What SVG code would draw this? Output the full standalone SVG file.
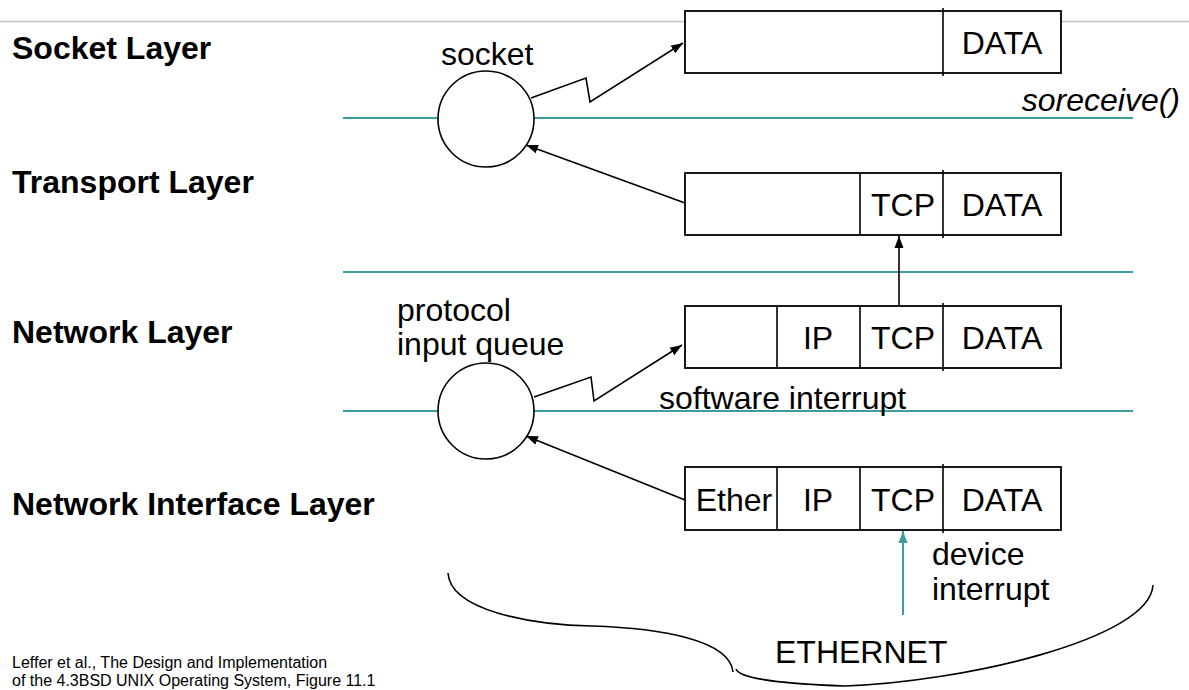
<svg xmlns="http://www.w3.org/2000/svg" width="1189" height="690" viewBox="0 0 1189 690">
<defs>
<style>
.lbl{font-family:"Liberation Sans",Arial,sans-serif;font-size:32px;fill:#000}
.bold{font-weight:bold}
.box{fill:#fff;stroke:#000;stroke-width:1.8}
.div{stroke:#000;stroke-width:1.6}
.teal{stroke:#3d9c9c;stroke-width:2;fill:none}
.conn{stroke:#000;stroke-width:1.6;fill:none}
.circ{fill:#fff;stroke:#000;stroke-width:1.6}
.cite{font-family:"Liberation Sans",Arial,sans-serif;font-size:16px;fill:#000}
</style>
<marker id="ah" markerUnits="userSpaceOnUse" markerWidth="13" markerHeight="10" refX="12" refY="5" orient="auto">
<path d="M0,0.5 L12,5 L0,9.5 z" fill="#000"/>
</marker>
<marker id="aht" markerUnits="userSpaceOnUse" markerWidth="13" markerHeight="10" refX="12" refY="5" orient="auto">
<path d="M0,0.5 L12,5 L0,9.5 z" fill="#3d9c9c"/>
</marker>
</defs>
<rect width="1189" height="690" fill="#fff"/>

<g id="layer-lines">
<line x1="0" y1="21.5" x2="1189" y2="21.5" stroke="#c4c4c4" stroke-width="1.5"/>
<line class="teal" x1="343" y1="118" x2="1133" y2="118"/>
<line class="teal" x1="343" y1="272" x2="1133" y2="272"/>
<line class="teal" x1="343" y1="411" x2="1133" y2="411"/>
</g>

<g id="layer-labels">
<text class="lbl bold" x="12" y="59">Socket Layer</text>
<text class="lbl bold" x="12" y="193">Transport Layer</text>
<text class="lbl bold" x="12" y="343">Network Layer</text>
<text class="lbl bold" x="12" y="515">Network Interface Layer</text>
</g>

<g id="socket">
<circle class="circ" cx="486" cy="119" r="48"/>
<text class="lbl" x="441" y="65">socket</text>
</g>

<g id="input-queue">
<circle class="circ" cx="486" cy="411" r="48"/>
<text class="lbl" x="397" y="321">protocol</text>
<text class="lbl" x="397" y="355">input queue</text>
</g>

<g id="mbuf-socket">
<rect class="box" x="685" y="11" width="376" height="62"/>
<line class="div" x1="943" y1="8" x2="943" y2="76"/>
<text class="lbl" x="1002" y="54" text-anchor="middle">DATA</text>
</g>

<g id="mbuf-transport">
<rect class="box" x="685" y="173" width="376" height="62"/>
<line class="div" x1="860" y1="173" x2="860" y2="235"/>
<line class="div" x1="943" y1="170" x2="943" y2="238"/>
<text class="lbl" x="903" y="216" text-anchor="middle">TCP</text>
<text class="lbl" x="1002" y="216" text-anchor="middle">DATA</text>
</g>

<g id="mbuf-network">
<rect class="box" x="685" y="306" width="376" height="62"/>
<line class="div" x1="777" y1="306" x2="777" y2="368"/>
<line class="div" x1="860" y1="306" x2="860" y2="368"/>
<line class="div" x1="943" y1="303" x2="943" y2="371"/>
<text class="lbl" x="818" y="349" text-anchor="middle">IP</text>
<text class="lbl" x="903" y="349" text-anchor="middle">TCP</text>
<text class="lbl" x="1002" y="349" text-anchor="middle">DATA</text>
</g>

<g id="mbuf-interface">
<rect class="box" x="685" y="467" width="376" height="63"/>
<line class="div" x1="777" y1="467" x2="777" y2="530"/>
<line class="div" x1="860" y1="467" x2="860" y2="530"/>
<line class="div" x1="943" y1="464" x2="943" y2="533"/>
<text class="lbl" x="734" y="511" text-anchor="middle">Ether</text>
<text class="lbl" x="818" y="511" text-anchor="middle">IP</text>
<text class="lbl" x="903" y="511" text-anchor="middle">TCP</text>
<text class="lbl" x="1002" y="511" text-anchor="middle">DATA</text>
</g>

<g id="ethernet">
<path class="conn" d="M448,573 C450,610 530,625 592,626 C660,628 730,640 733,672"/>
<path class="conn" d="M736,669 C740,680 790,684 845,686 C960,682 1150,640 1153,585"/>
<text class="lbl" x="775" y="663">ETHERNET</text>
</g>

<g id="annotations">
<text class="lbl" x="1180" y="111" text-anchor="end" font-style="italic" font-size="31">soreceive()</text>
<text class="lbl" x="659" y="409">software interrupt</text>
<text class="lbl" x="932" y="565" font-size="29">device</text>
<text class="lbl" x="932" y="600" font-size="29">interrupt</text>
<text class="cite" x="12" y="668">Leffer et al., The Design and Implementation</text>
<text class="cite" x="12" y="686">of the 4.3BSD UNIX Operating System, Figure 11.1</text>
</g>

<g id="connectors">
<polyline class="conn" points="531,98 586,78 590,102 683,43" marker-end="url(#ah)"/>
<line class="conn" x1="685" y1="203" x2="526" y2="145" marker-end="url(#ah)"/>
<line class="conn" x1="899" y1="306" x2="899" y2="236" marker-end="url(#ah)"/>
<polyline class="conn" points="534,397 591,377 594,401 682,345" marker-end="url(#ah)"/>
<line class="conn" x1="685" y1="500" x2="526" y2="436" marker-end="url(#ah)"/>
<line class="teal" x1="903" y1="615" x2="903" y2="531" marker-end="url(#aht)"/>
</g>
</svg>
